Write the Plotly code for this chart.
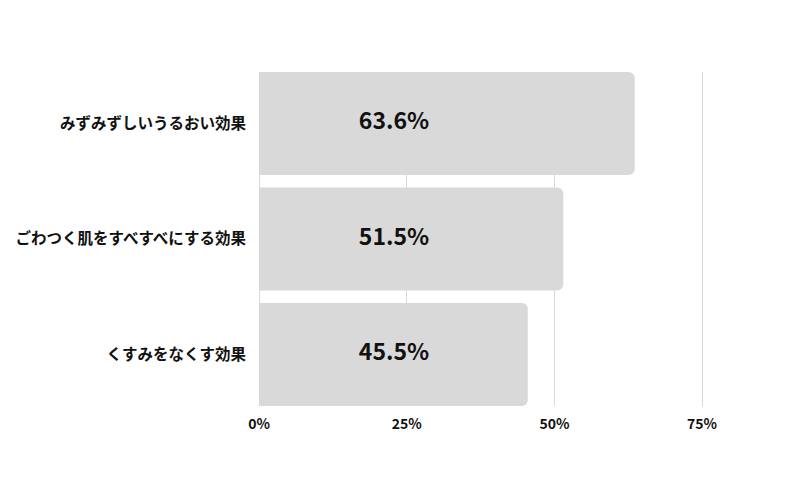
import plotly.graph_objects as go

# data (top to bottom)
categories = ["みずみずしいうるおい効果", "ごわつく肌をすべすべにする効果", "くすみをなくす効果"]
values = [63.6, 51.5, 45.5]
value_labels = ["63.6%", "51.5%", "45.5%"]
tick_vals = [0, 25, 50, 75]
tick_text = ["0%", "25%", "50%", "75%"]
label_x = 22.85  # labels all sit at the same spot inside the bars

FONT = "Noto Sans CJK JP"

fig = go.Figure()

fig.add_trace(go.Bar(
    x=values, y=categories, orientation="h",
    marker=dict(color="#d9d9d9", line=dict(width=0)),
    width=0.892,
    hoverinfo="skip",
))

# value labels inside the bars
fig.add_trace(go.Scatter(
    x=[label_x] * len(values), y=categories, mode="text",
    text=value_labels,
    textfont=dict(family=FONT, size=23, color="#111111", weight="bold"),
    hoverinfo="skip",
))

fig.update_layout(
    width=800, height=497,
    margin=dict(l=251, r=100, t=64, b=99, autoexpand=False),
    plot_bgcolor="white", paper_bgcolor="white",
    showlegend=False,
    barcornerradius=6,
    font=dict(family=FONT, color="#111111"),
)

fig.update_xaxes(
    range=[0, 76], automargin=False,
    tickmode="array", tickvals=tick_vals, ticktext=tick_text,
    tickfont=dict(family=FONT, size=14, color="#111111", weight="bold"),
    showgrid=True, gridcolor="#d9d9d9", gridwidth=1,
    zeroline=True, zerolinecolor="#d9d9d9", zerolinewidth=1,
    showline=False, ticklabelstandoff=8,
)

fig.update_yaxes(
    categoryorder="array", categoryarray=categories[::-1],
    range=[-0.446, 2.446], automargin=False,
    tickfont=dict(family=FONT, size=15.5, color="#111111", weight="bold"),
    showgrid=False, zeroline=False, showline=False,
    ticklabelstandoff=12,
)

fig.write_html("out.html")
